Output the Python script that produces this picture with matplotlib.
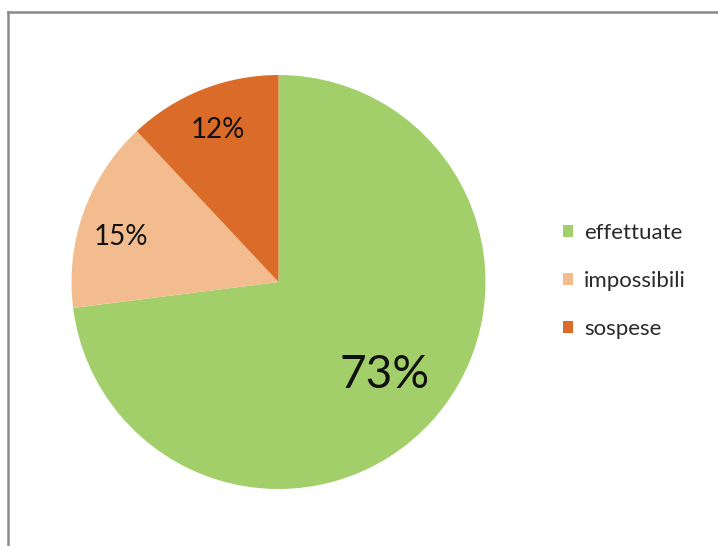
import matplotlib as mpl
mpl.use('Agg')
import matplotlib.pyplot as plt
from matplotlib.lines import Line2D
import numpy as np

plt.rcParams['font.family'] = ['Lato', 'DejaVu Sans']

categories = ['effettuate', 'impossibili', 'sospese']
values = [73, 15, 12]
colors = ['#A3CF6B', '#F3BC8F', '#DB6B28']
pct_labels = ['73%', '15%', '12%']

W, H = 718, 546
fig = plt.figure(figsize=(W / 100, H / 100), dpi=100)

# pie box in pixel coords: center (278, 282), radius 207
cx, cy, r = 278.5, 282, 207
ax = fig.add_axes([(cx - r) / W, (H - cy - r) / H, 2 * r / W, 2 * r / H])
wedges, _ = ax.pie(values, colors=colors, startangle=90, counterclock=False,
                   radius=1, wedgeprops=dict(linewidth=0))
ax.set_xlim(-1, 1)
ax.set_ylim(-1, 1)
ax.set_aspect('auto')
ax.axis('off')

# percentage labels
dists = [0.68, 0.79, 0.79]
sizes = [33, 20, 20]
offsets = [0, 4, 0]
for w, lab, d, s, off in zip(wedges, pct_labels, dists, sizes, offsets):
    ang = np.deg2rad((w.theta1 + w.theta2) / 2 + off)
    ax.text(d * np.cos(ang), d * np.sin(ang), lab, ha='center', va='center',
            fontsize=s, color='#111111')

# legend
fig.legend(wedges, categories, loc='center left',
           bbox_to_anchor=(543 / W, 1 - 281 / H), frameon=False,
           fontsize=16, handlelength=0.45, handleheight=0.45,
           handletextpad=0.5, labelspacing=1.25, labelcolor='#2a2a2a')

# chart area frame (only left and top edges visible)
fy = 1 - 11.5 / H
fx = 7.5 / W
fig.add_artist(Line2D([fx, fx], [0, fy], transform=fig.transFigure,
                      color='#8a8a8a', linewidth=1.8))
fig.add_artist(Line2D([fx, 1], [fy, fy], transform=fig.transFigure,
                      color='#8a8a8a', linewidth=1.8))

fig.savefig('out.png', dpi=100)
